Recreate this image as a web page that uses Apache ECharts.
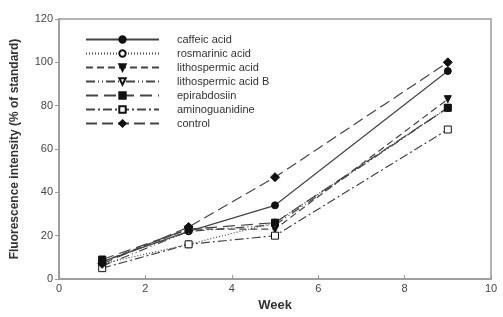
<!DOCTYPE html>
<html>
<head>
<meta charset="utf-8">
<script src="https://cdn.jsdelivr.net/npm/echarts@6/dist/echarts.min.js"></script>
<style>
  html, body { margin: 0; padding: 0; background: #fff; }
  #chart { width: 503px; height: 317px; }
</style>
</head>
<body>
<div id="chart"></div>
<script>
const weeks = [1, 3, 5, 9];
const names = ['caffeic acid', 'rosmarinic acid', 'lithospermic acid', 'lithospermic acid B', 'epirabdosiin', 'aminoguanidine', 'control'];
const caffeic = [8, 22, 34, 96];
const rosmarinic = [7, 16, 26, 79];
const lithospermic = [8, 23, 23, 83];
const lithospermicB = [6, 22, 25, 79];
const epirabdosiin = [9, 23, 26, 79];
const aminoguanidine = [5, 16, 20, 69];
const control = [7, 24, 47, 100];

const triDown = 'path://M0,0 L10,0 L5,9 Z';

// line dash, symbol, filled
const looks = [
  { values: caffeic, dash: 'solid', symbol: 'circle', fill: true },
  { values: rosmarinic, dash: [1, 2], symbol: 'circle', fill: false },
  { values: lithospermic, dash: [7, 4], symbol: triDown, fill: true },
  { values: lithospermicB, dash: [9, 3, 1, 3, 1, 3], symbol: triDown, fill: false },
  { values: epirabdosiin, dash: [12, 6], symbol: 'rect', fill: true },
  { values: aminoguanidine, dash: [9, 3, 2, 3], symbol: 'rect', fill: false },
  { values: control, dash: [11, 5], symbol: 'diamond', fill: true }
];

const chart = echarts.init(document.getElementById('chart'));

chart.setOption({
  animation: false,
  textStyle: { fontFamily: 'Liberation Sans, Arial, sans-serif' },
  grid: { left: 59, right: 12, top: 19, bottom: 29, show: true, borderColor: '#999', borderWidth: 1.5 },
  legend: {
    orient: 'vertical',
    left: 80,
    top: 29,
    itemWidth: 73,
    itemHeight: 8,
    itemGap: 3,
    textStyle: { fontSize: 11, color: '#333', padding: [0, 0, 0, 13] },
    data: names
  },
  xAxis: {
    type: 'value',
    min: 0, max: 10, interval: 2,
    name: 'Week',
    nameLocation: 'middle',
    nameGap: 20,
    nameTextStyle: { fontWeight: 'bold', fontSize: 13, color: '#333' },
    axisLine: { lineStyle: { color: '#999', width: 1.5 } },
    axisTick: { lineStyle: { color: '#999' }, length: 4, inside: true },
    axisLabel: { color: '#444', fontSize: 11, margin: 4 },
    splitLine: { show: false }
  },
  yAxis: {
    type: 'value',
    min: 0, max: 120, interval: 20,
    name: 'Fluorescence intensity (% of standard)',
    nameLocation: 'middle',
    nameGap: 38,
    nameTextStyle: { fontWeight: 'bold', fontSize: 12, color: '#333' },
    axisLine: { show: true, lineStyle: { color: '#999', width: 1.5 } },
    axisTick: { show: true, lineStyle: { color: '#999' }, length: 4 },
    axisLabel: { color: '#444', fontSize: 11, margin: 6 },
    splitLine: { show: false }
  },
  series: looks.map((s, i) => ({
    name: names[i],
    type: 'line',
    data: weeks.map((w, j) => [w, s.values[j]]),
    symbol: s.symbol,
    symbolSize: s.symbol === 'diamond' ? 9 : 7,
    showAllSymbol: true,
    lineStyle: { color: '#444', width: 1.2, type: s.dash },
    itemStyle: s.fill
      ? { color: '#111', borderColor: '#111', borderWidth: 1 }
      : { color: '#fff', borderColor: '#111', borderWidth: 1 }
  }))
});
</script>
</body>
</html>
